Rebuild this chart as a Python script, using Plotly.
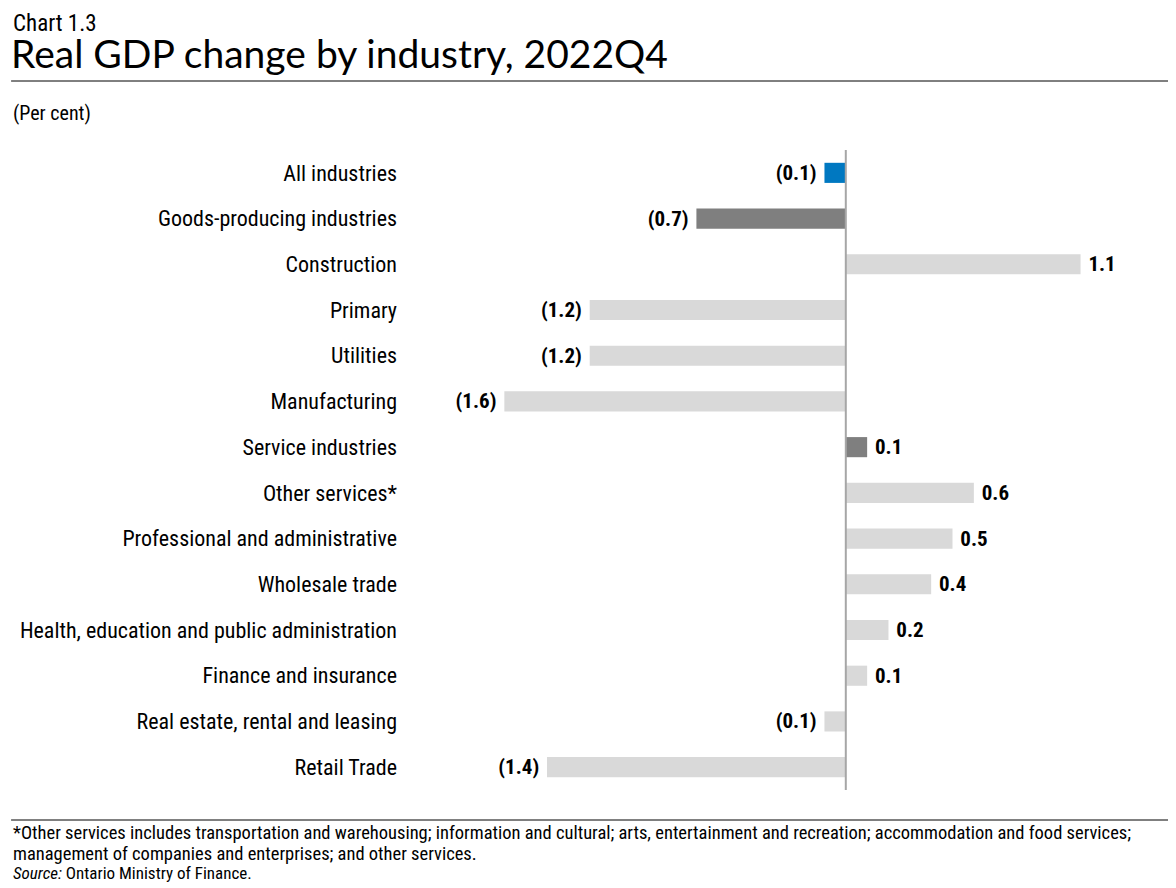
import plotly.graph_objects as go

industries = ['All industries', 'Goods-producing industries', 'Construction', 'Primary',
              'Utilities', 'Manufacturing', 'Service industries', 'Other services*',
              'Professional and administrative', 'Wholesale trade',
              'Health, education and public administration', 'Finance and insurance',
              'Real estate, rental and leasing', 'Retail Trade']
change = [-0.1, -0.7, 1.1, -1.2, -1.2, -1.6, 0.1, 0.6, 0.5, 0.4, 0.2, 0.1, -0.1, -1.4]
group = ['total', 'sector', 'sub', 'sub', 'sub', 'sub', 'sector', 'sub', 'sub', 'sub',
         'sub', 'sub', 'sub', 'sub']

footnote = ['*Other services includes transportation and warehousing; information and cultural; '
            'arts, entertainment and recreation; accommodation and food services;',
            'management of companies and enterprises; and other services.',
            '<i>Source:</i> Ontario Ministry of Finance.']

colour_map = {'total': '#0078C1', 'sector': '#7F7F7F', 'sub': '#D9D9D9'}
narrow = 'Liberation Sans Narrow, Arial Narrow, Roboto Condensed, sans-serif'

# page is offset 8px by the body margin, so work in figure pixels
W, H = 1168, 880
L, R, T, B = 400, 40, 142, 98
pw, ph = W - L - R, H - T - B


def px_y(y):
    # figure pixel (from top) -> paper y
    return (H - B - y) / ph


def px_x(x):
    return (x - L) / pw


def fmt(v):
    # a non-breaking space pushes the label a little further from the bar
    if v < 0:
        return '({:.1f})\u00a0'.format(abs(v))
    return '\u00a0{:.1f}'.format(v)


fig = go.Figure(go.Bar(
    x=change,
    y=industries,
    orientation='h',
    width=0.44,
    marker=dict(color=[colour_map[g] for g in group], line=dict(width=0)),
    text=[fmt(v) for v in change],
    textposition='outside',
    constraintext='none',
    textfont=dict(family=narrow, size=21, color='#000000', weight='bold'),
    cliponaxis=False,
))

annots = [
    dict(text='Chart 1.3', x=px_x(0), y=px_y(0), yanchor='top',
         font=dict(family=narrow, size=23)),
    dict(text='Real GDP change by industry, 2022Q4', x=px_x(-2), y=px_y(45), yanchor='middle',
         font=dict(family='Lato, Open Sans, sans-serif', size=39)),
    dict(text='(Per cent)', x=px_x(0), y=px_y(105), yanchor='middle',
         font=dict(family=narrow, size=20)),
]
for i, (line, ypos) in enumerate(zip(footnote, [825, 846, 865])):
    annots.append(dict(text=line, x=px_x(0), y=px_y(ypos), yanchor='middle',
                       font=dict(family=narrow, size=18.5 if i < 2 else 17)))
for a in annots:
    a.update(xref='paper', yref='paper', xanchor='left', showarrow=False, align='left')

fig.update_layout(
    width=W, height=H,
    margin=dict(l=L, r=R, t=T, b=B),
    plot_bgcolor='white', paper_bgcolor='white',
    showlegend=False,
    font=dict(family=narrow, color='#000000'),
    xaxis=dict(range=[-(837 - L) / 214, (W - R - 837) / 214], visible=False,
               zeroline=False, showgrid=False),
    yaxis=dict(autorange='reversed', showgrid=False, zeroline=False,
               ticks='', ticklabelstandoff=12,
               tickfont=dict(family=narrow, size=22, color='#000000')),
    shapes=[
        dict(type='line', xref='x', yref='paper', x0=0, x1=0, y0=0, y1=1,
             line=dict(color='#A6A6A6', width=2)),
        dict(type='line', xref='paper', yref='paper', x0=px_x(0), x1=px_x(W),
             y0=px_y(73), y1=px_y(73), line=dict(color='#000000', width=1)),
        dict(type='line', xref='paper', yref='paper', x0=px_x(0), x1=px_x(W),
             y0=px_y(812), y1=px_y(812), line=dict(color='#000000', width=1)),
    ],
    annotations=annots,
)

fig.write_html('out.html')
